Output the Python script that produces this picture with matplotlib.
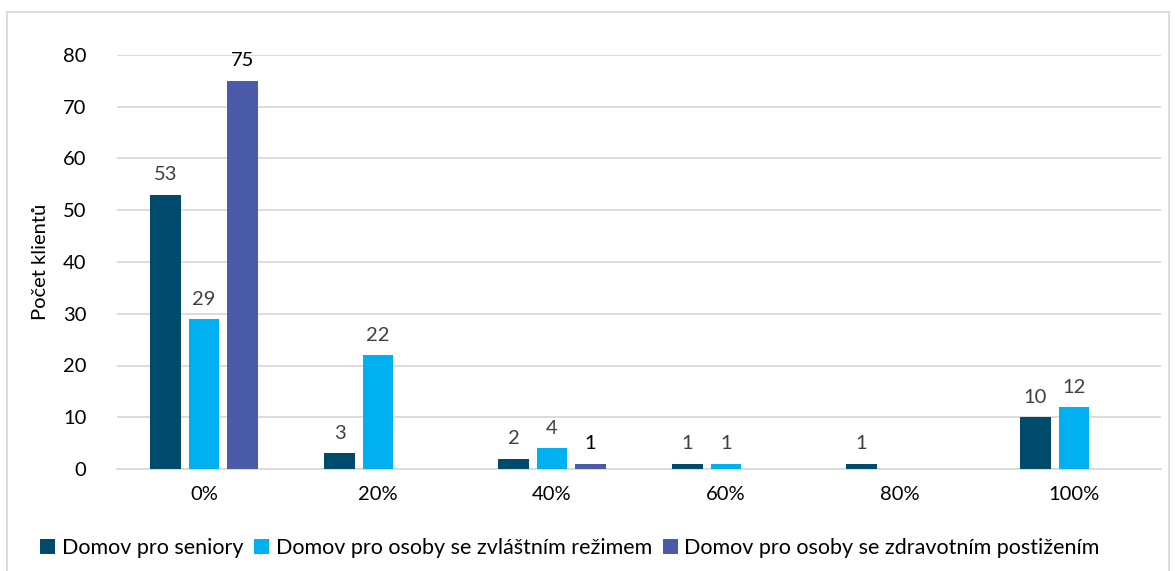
import numpy as np
import matplotlib.pyplot as plt
from matplotlib.patches import Rectangle

categories = ['0%', '20%', '40%', '60%', '80%', '100%']
series_names = ['Domov pro seniory',
                'Domov pro osoby se zvláštním režimem',
                'Domov pro osoby se zdravotním postižením']
seniory = [53, 3, 2, 1, 1, 10]
zvlastni = [29, 22, 4, 1, 0, 12]
postizeni = [75, 0, 1, 0, 0, 0]
colors = ['#004A6B', '#00B0F0', '#4A5BA9']
label_colors = ['#404040', '#404040', '#000000']

plt.rcParams['font.family'] = ['Lato', 'DejaVu Sans']

fig = plt.figure(figsize=(11.75, 5.71), dpi=100)
ax = fig.add_axes([117 / 1175, 1 - 469 / 571, 1044 / 1175, 414 / 571])

x = np.arange(len(categories))
width = 0.178
offset = 0.221
for i, vals in enumerate([seniory, zvlastni, postizeni]):
    vals = np.array(vals)
    mask = vals > 0
    bars = ax.bar(x[mask] + (i - 1) * offset, vals[mask], width,
                  color=colors[i], label=series_names[i], zorder=3)
    for b, v in zip(bars, vals[mask]):
        ax.text(b.get_x() + b.get_width() / 2, v + 2.2, str(v),
                ha='center', va='bottom', fontsize=14.5, color=label_colors[i])

ax.set_xlim(-0.5, len(categories) - 0.5)
ax.set_ylim(0, 80)
ax.set_yticks(range(0, 81, 10))
ax.set_xticks(x)
ax.set_xticklabels(categories)
ax.tick_params(axis='both', length=0, labelsize=14.5, colors='black')
ax.tick_params(axis='y', pad=22)
ax.tick_params(axis='x', pad=12)
ax.grid(axis='y', color='#D9D9D9', linewidth=1.3, zorder=0)
for s in ['top', 'right', 'left']:
    ax.spines[s].set_visible(False)
ax.spines['bottom'].set_color('#D9D9D9')
ax.spines['bottom'].set_linewidth(1.3)
ax.set_ylabel('Počet klientů', fontsize=14.5)
ax.yaxis.set_label_coords(-68 / 1044, 0.5)

fig.legend(loc='lower left', bbox_to_anchor=(21 / 1175, -0.012), ncol=3,
           frameon=False, fontsize=15.5, handlelength=0.7, handleheight=0.7,
           handletextpad=0.3, columnspacing=0.5)

fig.patches.append(Rectangle((7 / 1175, -0.05), 1162 / 1175, 1 - 12 / 571 + 0.05,
                             transform=fig.transFigure, fill=False,
                             edgecolor='#D9D9D9', linewidth=1.3))

fig.savefig('out.png', dpi=100)
